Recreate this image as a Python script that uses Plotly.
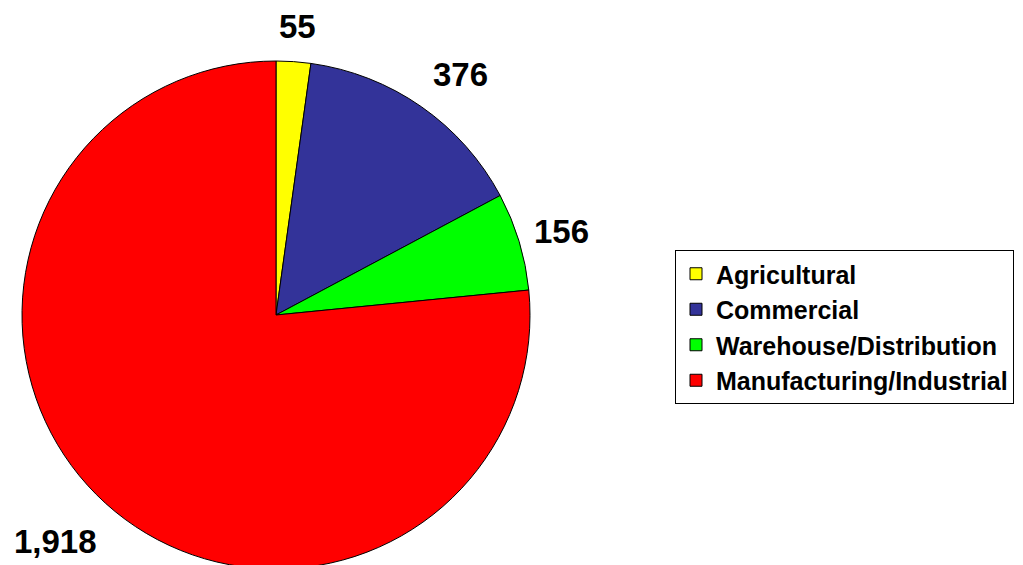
import plotly.graph_objects as go

categories = ["Agricultural", "Commercial", "Warehouse/Distribution", "Manufacturing/Industrial"]
values = [55, 376, 156, 1918]
colors = ["#FFFF00", "#333399", "#00FF00", "#FF0000"]

# page offset (default body margin) in pixels
OFF = 8
# label anchor positions in page pixels (layout only)
label_px = [(297, 27), (460, 75), (561, 231), (55, 541)]

W, H = 1023 - OFF, 565
T = 61 - OFF
R2 = 508
B = H - T - R2
PH = H - T - B

fig = go.Figure()
fig.add_trace(go.Pie(
    labels=categories,
    values=values,
    marker=dict(colors=colors, line=dict(color="black", width=1)),
    sort=False,
    direction="clockwise",
    rotation=0,
    textinfo="none",
    hoverinfo="label+value",
    domain=dict(x=[(22 - OFF) / W, (530 - OFF) / W], y=[0, 1]),
))

annotations = []
for v, (px, py) in zip(values, label_px):
    annotations.append(dict(
        x=(px - OFF) / W, y=1 - (py - OFF - T) / PH, xref="paper", yref="paper",
        text=f"{v:,}", showarrow=False, xanchor="center", yanchor="middle",
        font=dict(family="Arial, Liberation Sans, sans-serif", size=33, color="black", weight="bold"),
    ))

fig.update_layout(
    width=W, height=H,
    margin=dict(l=0, r=0, t=T, b=B),
    paper_bgcolor="white",
    plot_bgcolor="white",
    annotations=annotations,
    showlegend=True,
    legend=dict(
        x=(675 - OFF) / W, y=1 - (250 - OFF - T) / PH, xanchor="left", yanchor="top",
        bordercolor="black", borderwidth=1, bgcolor="white",
        font=dict(family="Arial, Liberation Sans, sans-serif", size=25, color="black", weight="bold"),
        traceorder="normal",
    ),
)

fig.write_html("out.html")
